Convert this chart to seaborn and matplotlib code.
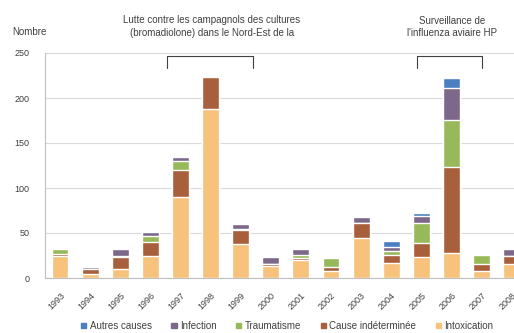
import numpy as np
import pandas as pd
import seaborn as sns
import matplotlib.pyplot as plt
from matplotlib.patches import Patch

years = ['1993', '1994', '1995', '1996', '1997', '1998', '1999', '2000',
         '2001', '2002', '2003', '2004', '2005', '2006', '2007', '2008']

# stacked from bottom to top
intoxication = [24, 4, 10, 25, 90, 188, 38, 13, 20, 8, 45, 17, 23, 28, 8, 16]
indeterminee = [3, 6, 13, 15, 30, 35, 15, 3, 2, 4, 16, 9, 16, 95, 8, 8]
traumatisme = [5, 0, 2, 7, 10, 0, 2, 0, 4, 10, 0, 4, 22, 53, 10, 0]
infection = [1, 2, 7, 4, 5, 2, 5, 7, 6, 0, 7, 4, 8, 35, 0, 8]
autres = [0, 0, 0, 0, 0, 0, 0, 0, 0, 0, 0, 7, 3, 11, 0, 0]

layers = [
    ('Intoxication', intoxication, '#f6c27c'),
    ('Cause indéterminée', indeterminee, '#a85f3c'),
    ('Traumatisme', traumatisme, '#98b95a'),
    ('Infection', infection, '#7d6889'),
    ('Autres causes', autres, '#4a7fc0'),
]

sns.set_style('white')
plt.rcParams['font.family'] = ['Liberation Sans', 'DejaVu Sans']
txt = '#404040'

fig = plt.figure(figsize=(5.14, 3.33), dpi=100)
ax = fig.add_axes([45 / 514, 55 / 333, 1 - 45 / 514, 225 / 333])

# cumulative heights, drawn tallest first so each layer sits on the one below
cum = np.cumsum([np.array(v) for _, v, _ in layers], axis=0)
for i in range(len(layers) - 1, -1, -1):
    df = pd.DataFrame({'year': years, 'value': cum[i]})
    sns.barplot(data=df, x='year', y='value', color=layers[i][2],
                saturation=1, width=0.56, ax=ax)

ax.set_ylim(0, 250)
ax.set_xlim(-0.5, 15.08)
ax.set_yticks(range(0, 251, 50))
ax.yaxis.grid(True, color='#d9d9d9', linewidth=0.8)
ax.set_axisbelow(True)
ax.set_xlabel('')
ax.set_ylabel('')
for s in ['top', 'right']:
    ax.spines[s].set_visible(False)
ax.spines['left'].set_color('#bfbfbf')
ax.spines['bottom'].set_color('#bfbfbf')
ax.tick_params(axis='y', labelsize=6.5, colors=txt, length=0, pad=11)
ax.tick_params(axis='x', labelsize=6.5, colors=txt, length=0, pad=9)
plt.setp(ax.get_xticklabels(), rotation=45, ha='right', rotation_mode='anchor')

fig.text(12 / 514, 1 - 32 / 333, 'Nombre', fontsize=7, color=txt, va='center')

# annotations with brackets
fig.text(212 / 514, 1 - 26.5 / 333,
         'Lutte contre les campagnols des cultures\n(bromadiolone) dans le Nord-Est de la',
         fontsize=7, color=txt, ha='center', va='center', linespacing=1.35)
fig.text(452 / 514, 1 - 27 / 333,
         "Surveillance de\nl'influenza aviaire HP",
         fontsize=7, color=txt, ha='center', va='center', linespacing=1.35)
for x0, x1 in [(167, 253), (417, 482)]:
    fig.add_artist(plt.Line2D([x0 / 514, x0 / 514, x1 / 514, x1 / 514],
                              [1 - 68 / 333, 1 - 56 / 333, 1 - 56 / 333, 1 - 68 / 333],
                              color=txt, linewidth=0.8))

handles = [Patch(color=c, label=n) for n, _, c in layers[::-1]]
fig.legend(handles=handles, loc='center', bbox_to_anchor=(0.559, 1 - 326 / 333),
           ncol=5, frameon=False, fontsize=7, handlelength=0.55, handleheight=0.55,
           columnspacing=2.0, handletextpad=0.35, labelcolor=txt)

fig.savefig('out.png', dpi=100)
